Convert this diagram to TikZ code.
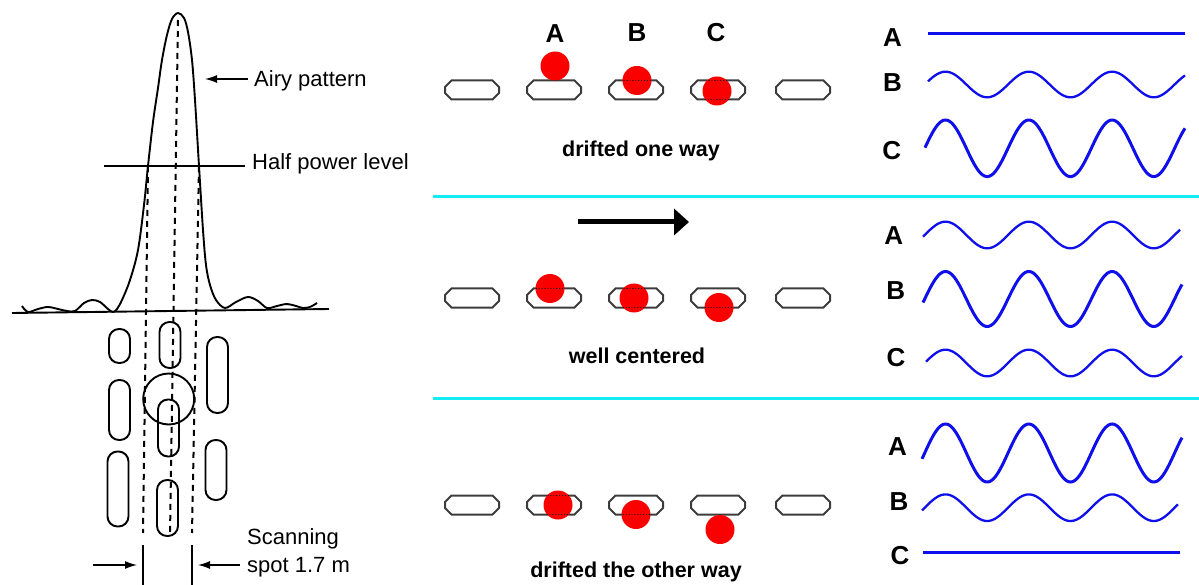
\documentclass[tikz,border=0pt]{standalone}
\usepackage{fontspec}
\setmainfont{Liberation Sans}
\usetikzlibrary{arrows.meta,calc}
\definecolor{rulecyan}{RGB}{20,235,245}
\definecolor{traceblue}{RGB}{15,15,235}
\definecolor{spotred}{RGB}{250,0,0}
\definecolor{pillgray}{RGB}{60,60,60}
\def\pill[#1](#2,#3){\draw[#1,shift={(#2,#3)}] (-27,-3) -- (-20.5,-9.5) -- (20.5,-9.5) -- (27,-3) -- (27,3) -- (20.5,9.5) -- (-20.5,9.5) -- (-27,3) -- cycle;}
\tikzset{
	ink/.style={line width=1.9pt, black},
	dashline/.style={line width=2pt, dash pattern=on 6pt off 5pt},
	pointer/.style={line width=1.3pt, -{Latex[length=12pt,width=8pt]}},
	lefttext/.style={anchor=base west, inner sep=0pt, font=\fontsize{22}{26}\selectfont},
	midtext/.style={anchor=base, inner sep=0pt, font=\fontsize{21.5}{26}\selectfont\bfseries},
	tag/.style={anchor=base, inner sep=0pt, font=\fontsize{26}{30}\selectfont\bfseries},
	pillline/.style={line width=2pt, pillgray},
	pillseam/.style={line width=0.9pt, black, dotted},
	sepline/.style={line width=3pt, rulecyan},
	wave/.style={traceblue, samples=150, smooth},
}
\begin{document}
\begin{tikzpicture}[x=1pt, y=-1pt]
			%%%%% START %%%%%
			\useasboundingbox (0,0) rectangle (1199,585);
			
			\draw[ink] (12,313) -- (329,309);
			\draw[ink] plot[smooth, tension=0.55] coordinates {(22,306) (28,312) (38,309) (48,307) (58,309) (67,311) (75,311) (84,303) (92,300) (100,302) (108,309) (113,312) (117,309) (122,300) (130,280) (138,250) (144,205) (148,166) (153,122) (158,88) (162,60) (167,35) (172,19) (178,13) (184,18) (188,32) (192,60) (195,100) (199,166) (203,230) (206,265) (210,285) (216,300) (225,308) (236,302) (248,297) (258,301) (267,308) (277,306) (287,304) (296,306) (303,308) (310,307) (317,303)};
			
			\draw[dashline] (148,166) -- (143,533);
			\draw[dashline] (178,20) -- (170,535);
			\draw[dashline] (199,166) -- (192,533);
			
			\foreach \cx/\cy/\hh in {119.5/346/34, 119.5/410/60, 118/489/75, 170/345/46, 168.5/428/57, 167.5/508/56, 217.5/375/76, 216/470/60}
				\draw[ink, rounded corners=10pt] (\cx-10.5,\cy-\hh/2) rectangle (\cx+10.5,\cy+\hh/2);
			\draw[ink] (168.7,399) circle (25.5);
			
			\node[lefttext] (airy) at (254,87) {Airy pattern};
			\coordinate (airytip) at (205,79);
			\draw[pointer] ($(airytip -| airy.west)+(-6,0)$) -- (airytip);
			
			\node[lefttext] (half) at (252,170) {Half power level};
			\coordinate (halfleft) at (104,166);
			\draw[ink, line width=1.3pt] (halfleft) -- ($(halfleft -| half.west)+(-7,0)$);
			
			\node[lefttext] (scan1) at (247,544) {Scanning};
			\node[lefttext] (scan2) at (247,572) {spot 1.7 m};
			\coordinate (spotl) at (143,545);
			\coordinate (spotr) at (192,545);
			\draw[ink] (spotl) -- ++(0,40);
			\draw[ink] (spotr) -- ++(0,40);
			\draw[pointer] ($(spotl)+(-50,20)$) -- ($(spotl)+(-6,20)$);
			\draw[pointer] ($(spotr -| scan2.west)+(-7,20)$) -- ($(spotr)+(6,20)$);
			
			%%%%% MIDDLE %%%%%
			\foreach \yy in {197,398}
				\draw[sepline] (433,\yy) -- (1199,\yy);
			
			\foreach \yy in {90,298,505}
				\foreach \xx in {472,554,636,718,803}
					\pill[pillline](\xx,\yy);
			
			\foreach \xx/\yy in {555/66, 637/80.5, 717/91, 550/288.5, 634/298, 719/307.5, 558/505, 636/514.5, 720/529.5}
				\fill[spotred] (\xx,\yy) circle (14.5);
			\foreach \xx/\yy/\px/\py in {555/66/554/90, 637/80.5/636/90, 717/91/718/90, 550/288.5/554/298, 634/298/636/298, 719/307.5/718/298, 558/505/554/505, 636/514.5/636/505, 720/529.5/718/505}{
				\begin{scope}
					\clip (\xx,\yy) circle (14.5);
					\pill[pillseam](\px,\py);
				\end{scope}
			}
			
			\node[tag] (spotA) at (555,43) {A};
			\node[tag] (spotB) at (637,42) {B};
			\node[tag] (spotC) at (716,42) {C};
			
			\node[midtext] (cap1) at (641,157) {drifted one way};
			\node[midtext] (cap2) at (637,363) {well centered};
			\node[midtext] (cap3) at (636,577) {drifted the other way};
			
			\coordinate (movefrom) at (578,222);
			\coordinate (moveto) at (689,222);
			\draw[line width=5pt, -{Triangle[length=15pt,width=26pt]}] (movefrom) -- (moveto);
			
			%%%%% TRACES %%%%%
			\foreach \lx/\ly/\lt [count=\i] in {892.5/46.7/A, 892.5/91.7/B, 891.7/159.3/C, 893.7/245/A, 895.8/299.3/B, 896/366.7/C, 897.5/455/A, 899/510/B, 900/564/C}
				\node[tag] (trace\i) at (\lx,\ly) {\lt};
			
			\foreach \yc/\amp/\xa/\xb/\lw in {34/0/928/1185/3, 84.5/12.8/928/1185/2.3, 148.3/28.3/925/1185/3, 235/13.3/923/1180/2.3, 299/27.5/923/1182/3, 363/13.3/926/1182/2.3, 453/29/922/1182/3, 507.7/13.3/922/1178/2.3, 552.7/0/923/1180/3}
				\draw[wave, line width=\lw pt, domain=\xa:\xb] plot (\x,{\yc-\amp*sin(((\x-924.7)/83.3)*360)});
			
			%%%%% END %%%%%
\end{tikzpicture}
\end{document}
